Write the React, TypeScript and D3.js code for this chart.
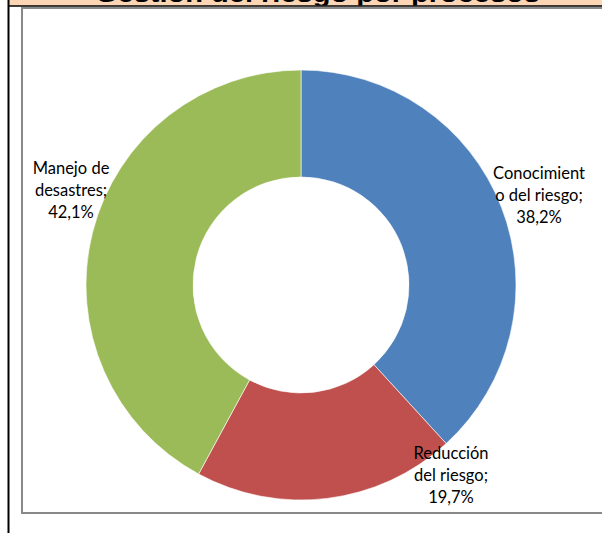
import React from "react";
import * as d3 from "d3";

const categories = ["Conocimiento del riesgo", "Reducción del riesgo", "Manejo de desastres"];
const values = [38.2, 19.7, 42.1];
const labelLines = [
  ["Conocimient", "o del riesgo;", "38,2%"],
  ["Reducción", "del riesgo;", "19,7%"],
  ["Manejo de", "desastres;", "42,1%"],
];
const colors = ["#4F81BD", "#C0504D", "#9BBB59"];
const title = "Gestión del riesgo por procesos";

export default function App() {
  const W = 602, H = 533;
  const cx = 301, cy = 285, rOut = 215, rIn = 108;
  const pie = d3.pie<number>().sort(null).value((d) => d);
  const arcs = pie(values);
  const arc = d3.arc<d3.PieArcDatum<number>>().innerRadius(rIn).outerRadius(rOut);
  const labelPos = [
    { x: 539, y: 179 },
    { x: 451, y: 459 },
    { x: 71, y: 174 },
  ];
  const lh = 22;
  return (
    <svg width={W} height={H} style={{ position: "absolute", left: 0, top: 0 }}>
      <defs>
        <clipPath id="band">
          <rect x={9} y={0} width={W} height={5.5} />
        </clipPath>
      </defs>
      <rect x={0} y={0} width={W} height={H} fill="#fff" />
      <rect x={9} y={0} width={W} height={6} fill="#FCD5B4" />
      <text
        x={95}
        y={1.5}
        clipPath="url(#band)"
        fontFamily="Liberation Sans, Arial, sans-serif"
        fontWeight="bold"
        fontSize={25}
        textLength={445}
        lengthAdjust="spacingAndGlyphs"
        fill="#000"
      >
        {title}
      </text>
      <line x1={8} y1={6} x2={W} y2={6} stroke="#000" strokeWidth={1.5} />
      <line x1={8.5} y1={0} x2={8.5} y2={H} stroke="#000" strokeWidth={2} />
      <path
        d={`M${W + 5},8 H22 V513 H${W + 5}`}
        fill="none"
        stroke="#898989"
        strokeWidth={2}
      />
      <g transform={`translate(${cx},${cy})`}>
        {arcs.map((a, i) => (
          <path key={categories[i]} d={arc(a) || ""} fill={colors[i]} stroke="#fff" strokeWidth={0.6} />
        ))}
      </g>
      {labelLines.map((lines, i) => (
        <text
          key={i}
          fontFamily="Lato, 'Open Sans', sans-serif"
          fontSize={16.5}
          fill="#000"
          textAnchor="middle"
        >
          {lines.map((l, j) => (
            <tspan key={j} x={labelPos[i].x} y={labelPos[i].y + j * lh}>
              {l}
            </tspan>
          ))}
        </text>
      ))}
    </svg>
  );
}
